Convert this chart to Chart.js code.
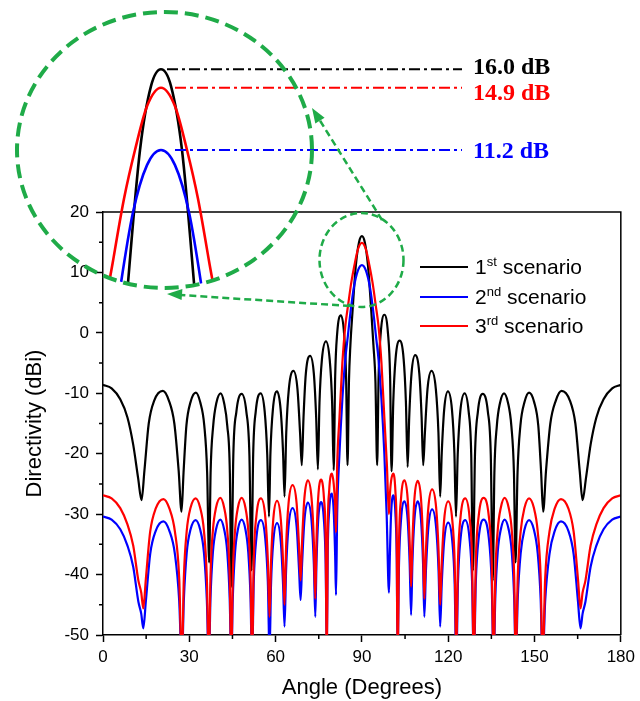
<!DOCTYPE html>
<html>
<head>
<meta charset="utf-8">
<script src="https://cdn.jsdelivr.net/npm/chart.js@4.4.0/dist/chart.umd.min.js"></script>
<style>
  body { margin: 0; width: 640px; height: 701px; background: #fff; overflow: hidden; position: relative; }
  #main { position: absolute; left: 0; top: 0; }
  #inset { position: absolute; left: 17px; top: 12px; border-radius: 50%; }
  #marks { position: absolute; left: 0; top: 0; }
  .row { position: absolute; left: 420px; height: 26px; display: flex; align-items: center;
         font: 21px 'Liberation Sans', Arial, sans-serif; color: #000; white-space: nowrap; }
  .swatch { width: 48px; height: 0; border-top: 2px solid; margin-right: 7px; }
  sup { font-size: 13px; vertical-align: 8px; line-height: 0; }
  .peak { position: absolute; left: 473px; height: 28px; line-height: 28px;
          font: bold 24px 'Liberation Serif', 'Times New Roman', serif; white-space: nowrap; }
</style>
</head>
<body>
<canvas id="main" width="640" height="701"></canvas>
<canvas id="inset" width="295" height="276"></canvas>
<svg id="marks" width="640" height="701"></svg>

<script>
// angle (deg), directivity (dBi)
const scenario1 = [
  [0,-8.6],[3,-9.2],[6,-11],[8.5,-14],[10.5,-18.5],[12.2,-24],[13.4,-27.7],
  [14.4,-22.8],[15.9,-15],[17.8,-11.2],[20.8,-9.6],[22.9,-11.2],[24.8,-15],[26.3,-22.8],[27.3,-29.6],
  [28,-23.1],[29,-15.3],[30.4,-11.5],[32.3,-9.9],[33.8,-11.5],[35.2,-15.3],[36.2,-23.1],[36.9,-38],
  [37.4,-23.2],[38.3,-15.4],[39.4,-11.6],[40.9,-10],[42.1,-11.6],[43.2,-15.4],[44.1,-23.2],[44.6,-42],
  [45.3,-20.3],[46.35,-13.1],[48.2,-10.1],[49.85,-13.1],[50.9,-20.3],[51.6,-39.3],
  [52.2,-20.2],[53.1,-13],[54.8,-10],[56.2,-13],[57.1,-20.2],[57.7,-30.4],
  [58.2,-19.9],[59.05,-12.7],[60.5,-9.7],[61.75,-12.7],[62.6,-19.9],[63.1,-27.1],
  [63.7,-16.5],[64.6,-9.3],[66.2,-6.3],[67.6,-9.3],[68.5,-16.5],[69.1,-21.9],
  [69.7,-14],[70.5,-6.8],[72,-3.8],[73.3,-6.8],[74.1,-14],[74.7,-22.6],
  [75.25,-11.6],[76.1,-4.4],[77.5,-1.4],[78.8,-4.4],[79.65,-11.6],[80.2,-22.7],
  [80.7,-7.3],[81.4,-0.1],[82.7,2.9],[83.8,-0.1],[84.5,-7.3],[85,-21.9],
  [85.5,-8],[86,-2],[86.7,3.3],[87.9,11.2],[89,15],[90,16],[91,15],[92.1,11.2],[93.3,3.3],[94,-2],[94.7,-8],[95.3,-21.9],
  [95.8,-7.2],[96.55,0],[97.8,3],[99.05,0],[99.8,-7.2],[100.3,-22.9],
  [100.9,-11.5],[101.7,-4.3],[103.1,-1.3],[104.5,-4.3],[105.3,-11.5],[105.9,-22.2],
  [106.45,-13.9],[107.25,-6.7],[108.5,-3.7],[109.95,-6.7],[110.75,-13.9],[111.3,-21.9],
  [111.9,-16.5],[112.8,-9.3],[114.2,-6.3],[115.7,-9.3],[116.6,-16.5],[117.2,-27.1],
  [117.75,-19.9],[118.6,-12.7],[119.9,-9.7],[121.3,-12.7],[122.15,-19.9],[122.7,-30.4],
  [123.3,-20.2],[124.2,-13],[125.7,-10],[127.1,-13],[128,-20.2],[128.6,-39.3],
  [129.3,-20.3],[130.3,-13.1],[132,-10.1],[133.8,-13.1],[134.8,-20.3],[135.5,-41],
  [136.05,-23.2],[136.9,-15.4],[138,-11.6],[139.4,-10],[140.8,-11.6],[141.95,-15.4],[142.85,-23.2],[143.4,-38],
  [144.1,-23.1],[145.1,-15.3],[146.5,-11.5],[148.1,-9.9],[149.9,-11.5],[151.3,-15.3],[152.3,-23.1],[153,-29.6],
  [154,-22.8],[155.5,-15],[157.4,-11.2],[159.4,-9.6],[162.3,-11.2],[164.2,-15],[165.7,-22.8],[166.7,-27.7],
  [167.9,-24],[169.5,-18.5],[171.5,-14],[174,-11],[177,-9.2],[180,-8.6]
];

const scenario2 = [
  [0,-30.4],[3,-30.9],[6,-32.5],[8.5,-35.2],[10.5,-38.7],[12.3,-44.5],[13.3,-46.5],[14,-48.9],
  [14.9,-44.4],[16.4,-36.6],[18.3,-32.8],[21,-31.2],[23.1,-32.8],[25,-36.6],[26.5,-44.4],[27.4,-55],
  [28.1,-44.2],[29.1,-36.4],[30.4,-32.6],[32.2,-31],[33.8,-32.6],[35.1,-36.4],[36.1,-44.2],[36.8,-55],
  [37.35,-44.1],[38.2,-36.3],[39.3,-32.5],[40.8,-30.9],[42.1,-32.5],[43.2,-36.3],[44.05,-44.1],[44.6,-55],
  [45.1,-44.1],[45.9,-36.3],[46.9,-32.5],[48.2,-30.9],[49.5,-32.5],[50.5,-36.3],[51.3,-44.1],[51.8,-55],
  [52.4,-41.2],[53.3,-34],[54.9,-31],[56.4,-34],[57.3,-41.2],[57.9,-53],
  [58.4,-41.7],[59.2,-34.5],[60.5,-31.5],[61.8,-34.5],[62.6,-41.7],[63.1,-48.6],
  [63.65,-39.2],[64.5,-32],[65.9,-29],[67.3,-32],[68.15,-39.2],[68.7,-44.2],
  [69.2,-38.3],[70,-31.1],[71.2,-28.1],[72.5,-31.1],[73.3,-38.3],[73.8,-47],
  [74.2,-38.2],[74.8,-31],[75.8,-28],[76.8,-31],[77.4,-38.2],[77.8,-53],
  [78.1,-36.8],[78.6,-29.6],[79.6,-26.6],[80.2,-29.6],[80.7,-36.8],[81,-43.4],
  [81.4,-30],[82.2,-20],[83.2,-11],[84.2,-4.5],[85.1,-0.6],[86,3.3],[87.2,7.5],[88.6,10.3],[90,11.2],
  [91.4,10.3],[92.8,7.5],[94,3.3],[94.9,-0.6],[95.8,-4.5],[96.8,-11],[97.8,-20],[98.6,-30],[99.4,-43],
  [99.7,-37.1],[100.15,-29.9],[100.9,-26.9],[101.65,-29.9],[102.1,-37.1],[102.4,-53],
  [102.9,-38.1],[103.6,-30.9],[104.8,-27.9],[105.9,-30.9],[106.6,-38.1],[107.1,-46.7],
  [107.55,-38.1],[108.25,-30.9],[109.4,-27.9],[110.55,-30.9],[111.25,-38.1],[111.7,-47],
  [112.25,-39.4],[113.1,-32.2],[114.4,-29.2],[115.8,-32.2],[116.65,-39.4],[117.2,-48.6],
  [117.75,-41.6],[118.6,-34.4],[120,-31.4],[121.4,-34.4],[122.25,-41.6],[122.8,-55],
  [123.4,-41.2],[124.3,-34],[125.9,-31],[127.4,-34],[128.3,-41.2],[128.9,-55],
  [129.6,-41.1],[130.6,-33.9],[132.3,-30.9],[134.1,-33.9],[135.1,-41.1],[135.8,-55],
  [136.35,-44.1],[137.2,-36.3],[138.3,-32.5],[139.6,-30.9],[141,-32.5],[142.1,-36.3],[142.95,-44.1],[143.5,-55],
  [144.15,-44.2],[145.2,-36.4],[146.5,-32.6],[148.1,-31],[149.8,-32.6],[151.1,-36.4],[152.15,-44.2],[152.8,-55],
  [153.7,-44.4],[155.2,-36.6],[157,-32.8],[159.2,-31.2],[161.8,-32.8],[163.6,-36.6],[165.1,-44.4],[166,-48.9],
  [166.7,-46.5],[167.7,-44.5],[169.5,-38.7],[171.5,-35.2],[174,-32.5],[177,-30.9],[180,-30.4]
];

const scenario3 = [
  [0,-26.9],[3,-27.4],[6,-29],[8.5,-31.7],[10.5,-35.2],[12.3,-41],[13.3,-43],[14,-45.6],
  [14.9,-40.7],[16.4,-32.9],[18.3,-29.1],[21,-27.5],[23.1,-29.1],[25,-32.9],[26.5,-40.7],[27.4,-55],
  [28.1,-40.6],[29.1,-32.8],[30.4,-29],[32.2,-27.4],[33.8,-29],[35.1,-32.8],[36.1,-40.6],[36.8,-55],
  [37.35,-40.5],[38.2,-32.7],[39.3,-28.9],[40.8,-27.3],[42.1,-28.9],[43.2,-32.7],[44.05,-40.5],[44.6,-55],
  [45.1,-40.5],[45.9,-32.7],[46.9,-28.9],[48.2,-27.3],[49.5,-28.9],[50.5,-32.7],[51.3,-40.5],[51.8,-55],
  [52.4,-37.6],[53.3,-30.4],[54.9,-27.4],[56.4,-30.4],[57.3,-37.6],[57.9,-47],
  [58.4,-38],[59.2,-30.8],[60.5,-27.8],[61.8,-30.8],[62.6,-38],[63.1,-45],
  [63.65,-35.4],[64.5,-28.2],[65.9,-25.2],[67.3,-28.2],[68.15,-35.4],[68.7,-41],
  [69.2,-34.6],[70,-27.4],[71.2,-24.4],[72.5,-27.4],[73.3,-34.6],[73.8,-44],
  [74.2,-34.5],[74.8,-27.3],[75.8,-24.3],[76.8,-27.3],[77.4,-34.5],[77.8,-55],
  [78.1,-33.5],[78.6,-26.3],[79.6,-23.3],[80.2,-25],[80.7,-28.5],[81,-33],
  [81.4,-22],[82.2,-14],[83.2,-5],[84.2,1],[85.2,4.6],[86.3,8.3],[87.4,11.2],[88.6,13.8],[90,14.9],
  [91.4,13.8],[92.6,11.2],[93.7,8.3],[94.8,4.6],[95.8,1],[96.8,-5],[97.8,-14],[98.7,-22],[99.4,-30],
  [99.7,-27],[100.15,-24.5],[100.9,-23.3],[101.65,-26.3],[102.1,-33.5],[102.4,-55],
  [102.9,-34.6],[103.6,-27.4],[104.8,-24.4],[105.9,-27.4],[106.6,-34.6],[107.1,-42],
  [107.55,-34.7],[108.25,-27.5],[109.4,-24.5],[110.55,-27.5],[111.25,-34.7],[111.7,-44],
  [112.25,-36.1],[113.1,-28.9],[114.4,-25.9],[115.8,-28.9],[116.65,-36.1],[117.2,-45],
  [117.75,-38.1],[118.6,-30.9],[120,-27.9],[121.4,-30.9],[122.25,-38.1],[122.8,-52],
  [123.4,-37.6],[124.3,-30.4],[125.9,-27.4],[127.4,-30.4],[128.3,-37.6],[128.9,-55],
  [129.6,-37.5],[130.6,-30.3],[132.3,-27.3],[134.1,-30.3],[135.1,-37.5],[135.8,-55],
  [136.35,-40.5],[137.2,-32.7],[138.3,-28.9],[139.6,-27.3],[141,-28.9],[142.1,-32.7],[142.95,-40.5],[143.5,-55],
  [144.15,-40.6],[145.2,-32.8],[146.5,-29],[148.1,-27.4],[149.8,-29],[151.1,-32.8],[152.15,-40.6],[152.8,-55],
  [153.7,-40.7],[155.2,-32.9],[157,-29.1],[159.2,-27.5],[161.8,-29.1],[163.6,-32.9],[165.1,-40.7],[166,-45.6],
  [166.7,-43],[167.7,-41],[169.5,-35.2],[171.5,-31.7],[174,-29],[177,-27.4],[180,-26.9]
];

const scenarioLabels = ['1<sup>st</sup> scenario', '2<sup>nd</sup> scenario', '3<sup>rd</sup> scenario'];
const scenarioColors = ['#000000', '#0000ff', '#ff0000'];
const xMinor = [15, 45, 75, 105, 135, 165];
const yMinor = [15, 5, -5, -15, -25, -35, -45];

const series = [scenario1, scenario2, scenario3];
const FONT = "'Liberation Sans', Arial, sans-serif";
Chart.defaults.font.family = FONT;
Chart.defaults.color = '#000';

function makeDatasets(width) {
  // red on top, then blue, black underneath
  return series.map((s, i) => ({
    label: scenarioLabels[i].replace(/<\/?sup>/g, ''),
    data: s.map(([x, y]) => ({ x, y })),
    borderColor: scenarioColors[i],
    borderWidth: width,
    pointRadius: 0,
    cubicInterpolationMode: 'monotone',
    order: 3 - i
  }));
}

const frameAndMinor = {
  id: 'frameAndMinor',
  afterDraw(chart) {
    const { ctx, chartArea: a, scales: { x, y } } = chart;
    ctx.save();
    ctx.strokeStyle = '#000';
    ctx.lineWidth = 1.5;
    ctx.beginPath();
    ctx.moveTo(a.left, a.top); ctx.lineTo(a.right, a.top); ctx.lineTo(a.right, a.bottom);
    xMinor.forEach(v => { const p = x.getPixelForValue(v); ctx.moveTo(p, a.bottom); ctx.lineTo(p, a.bottom + 4); });
    yMinor.forEach(v => { const p = y.getPixelForValue(v); ctx.moveTo(a.left, p); ctx.lineTo(a.left - 4, p); });
    ctx.stroke();
    ctx.restore();
  }
};

const mainChart = new Chart(document.getElementById('main'), {
  type: 'line',
  data: { datasets: makeDatasets(2.2) },
  options: {
    responsive: false,
    animation: false,
    devicePixelRatio: 1,
    layout: { padding: { top: 212, right: 17, left: 0, bottom: 0 } },
    plugins: { legend: { display: false }, tooltip: { enabled: false } },
    scales: {
      x: {
        type: 'linear', min: 0, max: 180,
        ticks: { stepSize: 30, font: { size: 17 }, padding: 5, color: '#000' },
        grid: { drawOnChartArea: false, tickLength: 7, tickColor: '#000', tickWidth: 1.5 },
        border: { color: '#000', width: 1.5 },
        title: { display: true, text: 'Angle (Degrees)', font: { size: 22 }, padding: { top: 0, bottom: 0 } },
        afterFit: s => { s.height = 66; }
      },
      y: {
        min: -50, max: 20,
        ticks: { stepSize: 10, font: { size: 17 }, padding: 7, color: '#000' },
        grid: { drawOnChartArea: false, tickLength: 7, tickColor: '#000', tickWidth: 1.5 },
        border: { color: '#000', width: 1.5 },
        title: { display: true, text: 'Directivity (dBi)', font: { size: 22 }, padding: { top: 22, bottom: 0 } },
        afterFit: s => { s.width = 103; }
      }
    }
  },
  plugins: [frameAndMinor]
});

// zoomed view of the main lobe, clipped to the ellipse by CSS
const insetChart = new Chart(document.getElementById('inset'), {
  type: 'line',
  data: { datasets: makeDatasets(2.6) },
  options: {
    responsive: false,
    animation: false,
    devicePixelRatio: 1,
    layout: { padding: 0 },
    plugins: { legend: { display: false }, tooltip: { enabled: false } },
    scales: {
      x: { type: 'linear', display: false, min: 75.6, max: 105.1 },
      y: { display: false, min: 3.0, max: 19.4 }
    }
  }
});

// overlay: circles, arrows, peak lines
const svg = document.getElementById('marks');
const NS = 'http://www.w3.org/2000/svg';
const green = '#1fab48';
function el(tag, attrs) {
  const e = document.createElementNS(NS, tag);
  for (const k in attrs) e.setAttribute(k, attrs[k]);
  svg.appendChild(e);
  return e;
}

const insetLeft = 17, insetTop = 12;
const peaks = series.map(s => Math.max(...s.map(p => p[1])));
// label tops per series: black, blue, red
const peakTextY = [53, 137, 79];
const x90 = insetLeft + insetChart.scales.x.getPixelForValue(90);
peaks.forEach((v, i) => {
  const py = insetTop + insetChart.scales.y.getPixelForValue(v);
  el('line', { x1: x90 + (i === 0 ? 6 : 14), y1: py, x2: 462, y2: py,
    stroke: scenarioColors[i], 'stroke-width': 2, 'stroke-dasharray': '11 4 3 4' });
  const d = document.createElement('div');
  d.className = 'peak';
  d.style.top = peakTextY[i] + 'px';
  d.style.color = scenarioColors[i];
  d.textContent = v.toFixed(1) + ' dB';
  document.body.appendChild(d);
});

el('ellipse', { cx: 164.5, cy: 150, rx: 147.5, ry: 138, fill: 'none', stroke: green,
  'stroke-width': 4, 'stroke-dasharray': '14 7' });
el('ellipse', { cx: 361.5, cy: 260, rx: 42, ry: 47, fill: 'none', stroke: green,
  'stroke-width': 2.5, 'stroke-dasharray': '7 4' });
el('line', { x1: 350, y1: 306, x2: 180, y2: 295, stroke: green, 'stroke-width': 2.5, 'stroke-dasharray': '7 4' });
el('polygon', { points: '167,294 182.4,289 181.6,300', fill: green });
el('line', { x1: 382, y1: 220, x2: 319, y2: 119, stroke: green, 'stroke-width': 2.5, 'stroke-dasharray': '7 4' });
el('polygon', { points: '312,108 324.6,117.8 315.3,123.6', fill: green });

// legend
const legendY = [254, 284, 313];
scenarioLabels.forEach((t, i) => {
  const row = document.createElement('div');
  row.className = 'row';
  row.style.top = legendY[i] + 'px';
  row.innerHTML = '<span class="swatch" style="border-color:' + scenarioColors[i] + '"></span><span>' + t + '</span>';
  document.body.appendChild(row);
});
</script>
</body>
</html>
